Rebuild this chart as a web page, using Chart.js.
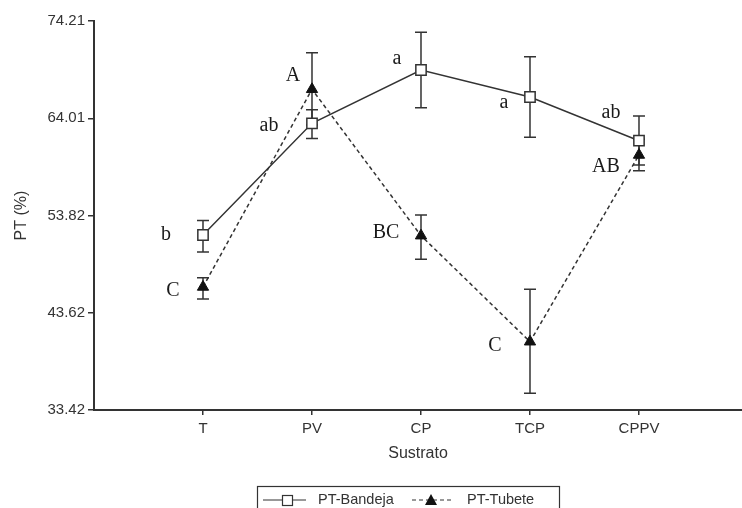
<!DOCTYPE html>
<html>
<head>
<meta charset="utf-8">
<script src="https://cdn.jsdelivr.net/npm/chart.js@4"></script>
<style>
  html, body { margin: 0; padding: 0; background: #fff; }
  #wrap { width: 742px; height: 508px; }
</style>
</head>
<body>
<div id="wrap"><canvas id="graficoPT" width="742" height="508"></canvas></div>
<script>
// Sustratos y valores de PT (%)
const categorias = ['T', 'PV', 'CP', 'TCP', 'CPPV'];
const ptBandeja = [51.77, 63.48, 69.07, 66.24, 61.66];
const bandejaInf = [50.0, 61.9, 65.12, 62.01, 59.1];
const bandejaSup = [53.3, 64.9, 73.02, 70.46, 64.24];
const ptTubete = [46.32, 67.05, 51.70, 40.58, 60.16];
const tubeteInf = [45.06, 63.3, 49.22, 35.17, 58.5];
const tubeteSup = [47.29, 70.88, 53.87, 46.07, 61.8];
const letrasBandeja = ['b', 'ab', 'a', 'a', 'ab'];
const letrasTubete = ['C', 'A', 'BC', 'C', 'AB'];
const yTicks = [33.42, 43.62, 53.82, 64.01, 74.21];

const tinta = '#333';

// barras de error (se dibujan antes de los marcadores)
const barrasError = {
    id: 'barrasError',
    beforeDatasetsDraw(chart) {
        const ctx = chart.ctx, x = chart.scales.x, y = chart.scales.y;
        const series = [[bandejaInf, bandejaSup], [tubeteInf, tubeteSup]];
        ctx.save();
        ctx.strokeStyle = tinta;
        ctx.lineWidth = 1.5;
        series.forEach(([inf, sup]) => {
            categorias.forEach((c, i) => {
                const px = x.getPixelForValue(i);
                const y1 = y.getPixelForValue(inf[i]), y2 = y.getPixelForValue(sup[i]);
                ctx.beginPath();
                ctx.moveTo(px, y1); ctx.lineTo(px, y2);
                ctx.moveTo(px - 6, y1); ctx.lineTo(px + 6, y1);
                ctx.moveTo(px - 6, y2); ctx.lineTo(px + 6, y2);
                ctx.stroke();
            });
        });
        ctx.restore();
    }
};

// letras de comparación de medias
const letras = {
    id: 'letras',
    afterDatasetsDraw(chart) {
        const ctx = chart.ctx, x = chart.scales.x, y = chart.scales.y;
        const offB = [[-37, 0], [-43, 2], [-24, -11], [-26, 6], [-28, -28]];
        const offT = [[-30, 4], [-19, -14], [-35, -3], [-35, 4], [-33, 12]];
        ctx.save();
        ctx.font = '20px "Liberation Serif"';
        ctx.fillStyle = '#1a1a1a';
        ctx.textAlign = 'center';
        ctx.textBaseline = 'middle';
        categorias.forEach((c, i) => {
            const px = x.getPixelForValue(i);
            ctx.fillText(letrasBandeja[i], px + offB[i][0], y.getPixelForValue(ptBandeja[i]) + offB[i][1]);
            ctx.fillText(letrasTubete[i], px + offT[i][0], y.getPixelForValue(ptTubete[i]) + offT[i][1]);
        });
        ctx.restore();
    }
};

// leyenda con recuadro
const leyenda = {
    id: 'leyenda',
    afterDraw(chart) {
        const ctx = chart.ctx;
        const ds = chart.data.datasets;
        const cy = 500;
        ctx.save();
        ctx.strokeStyle = tinta;
        ctx.lineWidth = 1.2;
        ctx.strokeRect(257.5, 486.5, 302, 40);
        ctx.font = '14.5px "Liberation Sans"';
        ctx.fillStyle = tinta;
        ctx.textBaseline = 'middle';
        // PT-Bandeja
        ctx.beginPath(); ctx.moveTo(263, cy); ctx.lineTo(306, cy); ctx.stroke();
        ctx.fillStyle = '#fff';
        ctx.fillRect(282, cy - 5, 11, 11);
        ctx.strokeRect(282.5, cy - 4.5, 10, 10);
        ctx.fillStyle = tinta;
        ctx.fillText(ds[0].label, 318, cy);
        // PT-Tubete
        ctx.setLineDash([4, 3]);
        ctx.beginPath(); ctx.moveTo(412, cy); ctx.lineTo(451, cy); ctx.stroke();
        ctx.setLineDash([]);
        ctx.fillStyle = '#111';
        ctx.beginPath();
        ctx.moveTo(431, cy - 6); ctx.lineTo(437, cy + 5); ctx.lineTo(425, cy + 5);
        ctx.closePath(); ctx.fill();
        ctx.fillStyle = tinta;
        ctx.fillText(ds[1].label, 467, cy);
        ctx.restore();
    }
};

const ctx = document.getElementById('graficoPT').getContext('2d');
new Chart(ctx, {
    type: 'line',
    data: {
        datasets: [
            {
                label: 'PT-Bandeja',
                data: ptBandeja.map((v, i) => ({ x: i, y: v })),
                borderColor: tinta,
                borderWidth: 1.5,
                pointStyle: 'rect',
                pointRadius: 7.3,
                pointBackgroundColor: '#fff',
                pointBorderColor: tinta,
                pointBorderWidth: 1.5,
                tension: 0,
                order: 2
            },
            {
                label: 'PT-Tubete',
                data: ptTubete.map((v, i) => ({ x: i, y: v })),
                borderColor: tinta,
                borderWidth: 1.5,
                borderDash: [4, 3],
                pointStyle: 'triangle',
                pointRadius: 6.5,
                pointBackgroundColor: '#111',
                pointBorderColor: '#111',
                pointBorderWidth: 1,
                tension: 0,
                order: 1
            }
        ]
    },
    options: {
        responsive: false,
        animation: false,
        layout: { autoPadding: false, padding: { top: 21, right: 0, bottom: 42, left: 0 } },
        plugins: {
            legend: { display: false },
            tooltip: { enabled: false }
        },
        scales: {
            x: {
                type: 'linear',
                min: -1,
                max: 4.945,
                afterBuildTicks: axis => { axis.ticks = categorias.map((c, i) => ({ value: i })); },
                afterFit: axis => { axis.height = 56; },
                ticks: {
                    callback: v => categorias[v],
                    color: tinta,
                    font: { family: 'Liberation Sans', size: 15 },
                    padding: 5,
                    maxRotation: 0
                },
                grid: { display: true, drawOnChartArea: false, drawTicks: true, tickLength: 5, color: tinta, lineWidth: 1.5 },
                border: { display: true, color: tinta, width: 2 },
                title: {
                    display: true,
                    text: 'Sustrato',
                    color: tinta,
                    font: { family: 'Liberation Sans', size: 16 },
                    padding: { top: 0, bottom: 2.4 }
                }
            },
            y: {
                min: 33.42,
                max: 74.21,
                afterBuildTicks: axis => { axis.ticks = yTicks.map(v => ({ value: v })); },
                afterFit: axis => { axis.width = 94; },
                ticks: {
                    callback: v => v.toFixed(2),
                    color: tinta,
                    font: { family: 'Liberation Sans', size: 15 },
                    padding: 3
                },
                grid: { display: true, drawOnChartArea: false, drawTicks: true, tickLength: 6, color: tinta, lineWidth: 1.5 },
                border: { display: true, color: tinta, width: 2 },
                title: {
                    display: true,
                    text: 'PT (%)',
                    color: tinta,
                    font: { family: 'Liberation Sans', size: 16 },
                    padding: { top: 12.4, bottom: 0 }
                }
            }
        }
    },
    plugins: [barrasError, letras, leyenda]
});
</script>
</body>
</html>
